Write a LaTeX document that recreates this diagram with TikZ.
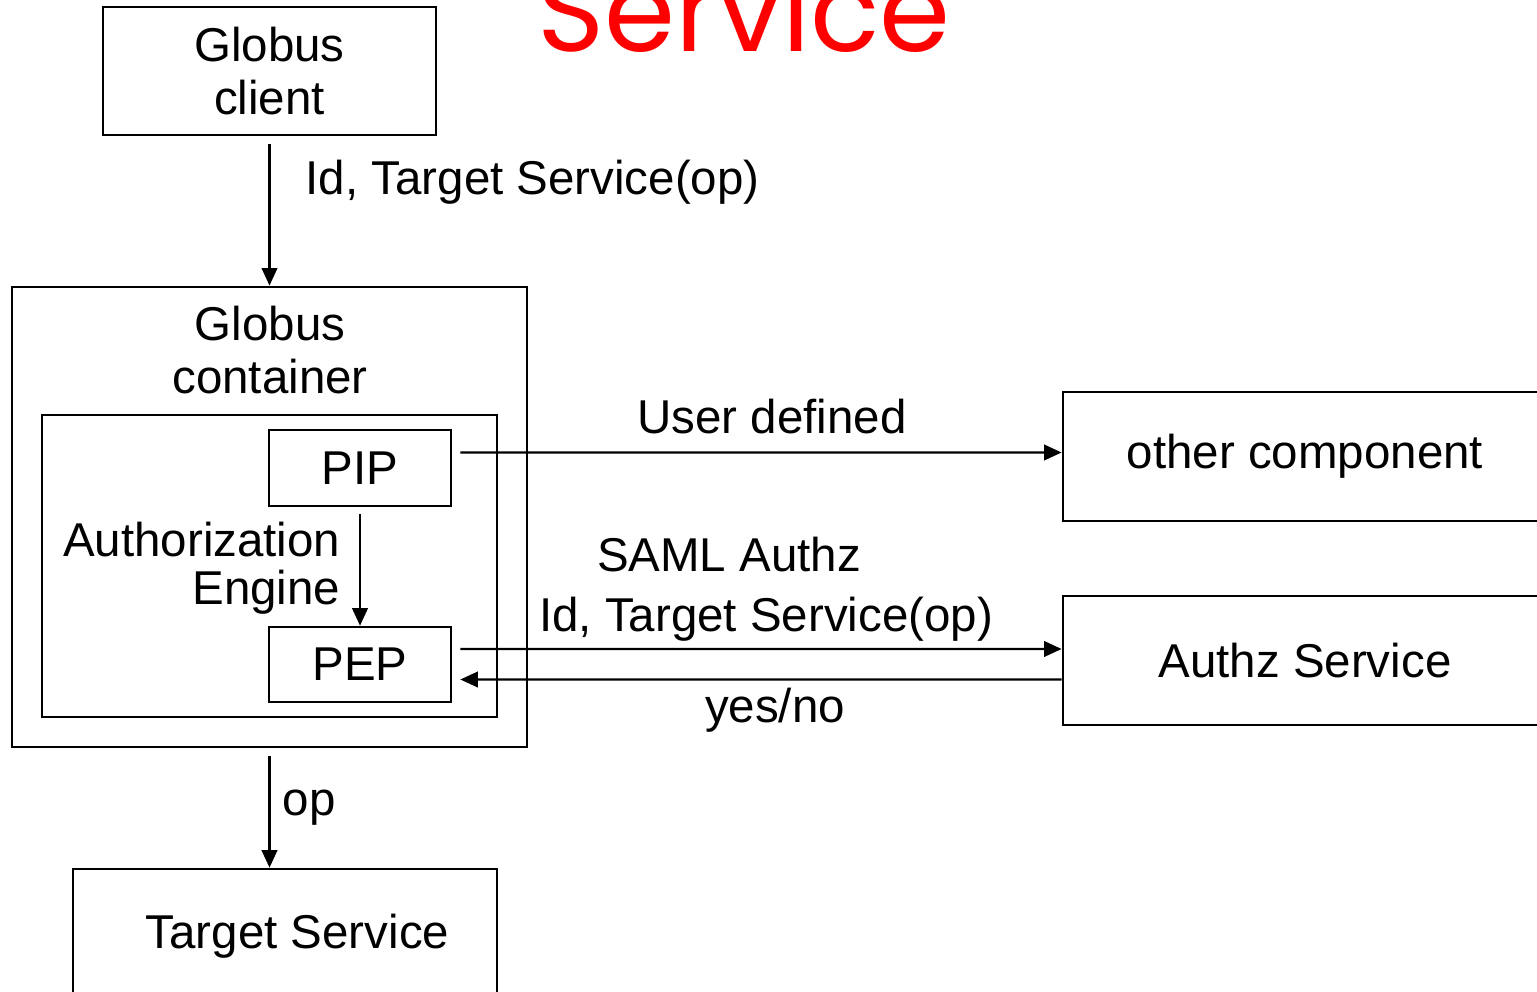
\documentclass[tikz,border=0pt]{standalone}
\usepackage{fontspec}
\setmainfont{Liberation Sans}
\newfontfamily\titlefont{Poppins}
\usetikzlibrary{arrows.meta}
\tikzset{
  blk/.style={draw,line width=0.7pt,inner sep=0pt},
  lbl/.style={inner sep=0pt},
  flow/.style={-{Triangle[length=5pt,width=4.4pt]},line width=0.7pt},
}
\begin{document}
\begin{tikzpicture}[x=0.01cm,y=-0.01cm,font=\fontsize{13.5pt}{15.2pt}\selectfont]
\useasboundingbox (0,0) rectangle (1537,992);
\clip (0,0) rectangle (1537,992);
%%%% Title, cut by the top edge
    \node[lbl,anchor=base,text=red,font=\titlefont\fontsize{32.5pt}{36pt}\selectfont] (title) at (744,52) {Service};
%%%% Add the boxes
    \node[blk,minimum width=3.33cm,minimum height=1.28cm,align=center] (client) at (269.5,71) {Globus\\client};
    \node[blk,minimum width=5.15cm,minimum height=4.60cm] (container) at (269.5,517) {};
    \node[lbl,anchor=north,align=center] (contlabel) at (270,305) {Globus\\container};
    \node[blk,minimum width=4.55cm,minimum height=3.02cm] (engine) at (269.5,566) {};
    \node[lbl,anchor=north east,align=right] (englabel) at (341,521) {Authorization\\[-0.05cm]Engine};
    \node[blk,minimum width=1.82cm,minimum height=0.76cm] (PIP) at (360,468) {PIP};
    \node[blk,minimum width=1.82cm,minimum height=0.75cm] (PEP) at (360,664.5) {PEP};
    \node[blk,minimum width=4.84cm,minimum height=1.29cm] (other) at (1305,456.5) {other component};
    \node[blk,minimum width=4.84cm,minimum height=1.29cm] (authz) at (1305,660.5) {Authz Service};
    \node[blk,minimum width=4.24cm,minimum height=1.34cm] (target) at (285,936) {};
    \node[lbl] (targetlabel) at (297.5,936) {Target Service};
%%%% Add the connectors
    \draw[flow,shorten <=0.08cm] (client.south) -- (container.north);
    \draw[flow,shorten <=0.07cm] (PIP.south) -- (PEP.north);
    \draw[flow,shorten <=0.08cm] ([yshift=0.155cm]PIP.east) -- ([yshift=0.04cm]other.west);
    \draw[flow,shorten <=0.08cm] ([yshift=0.155cm]PEP.east) -- ([yshift=0.115cm]authz.west);
    \draw[flow,shorten >=0.08cm] ([yshift=-0.19cm]authz.west) -- ([yshift=-0.15cm]PEP.east);
    \draw[flow,shorten <=0.08cm] (container.south) -- (container.south |- target.north);
%%%% Labels on the connectors
    \node[lbl,anchor=base west] (reqlabel) at (305,195) {Id, Target Service(op)};
    \node[lbl,anchor=base] (userlabel) at (772,434) {User defined};
    \node[lbl,anchor=base] (samllabel) at (729,572) {SAML Authz};
    \node[lbl,anchor=base] (querylabel) at (766,632) {Id, Target Service(op)};
    \node[lbl,anchor=base] (answerlabel) at (775,722) {yes/no};
    \node[lbl,anchor=base west] (oplabel) at (282,815) {op};
\end{tikzpicture}
\end{document}
